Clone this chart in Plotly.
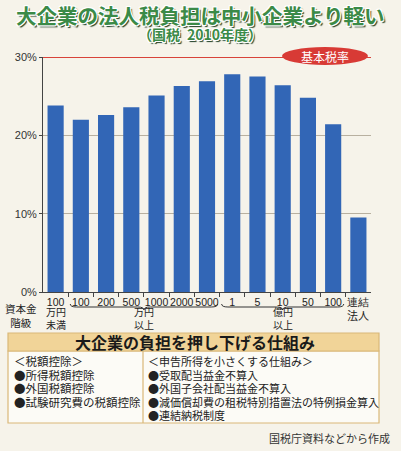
import plotly.graph_objects as go

# 資本金階級ごとの法人税負担率（国税 2010年度, %）
categories = list(range(13))
tick_labels = ['100', '100', '200', '500', '1000', '2000', '5000',
               '1', '5', '10', '50', '100', '連結']
burden_rates = [23.8, 22.0, 22.6, 23.6, 25.1, 26.3, 26.9,
                27.8, 27.5, 26.4, 24.8, 21.4, 9.5]
y_ticks = [0, 10, 20, 30]
BASE_RATE = 30

left_items = ['＜税額控除＞', '●所得税額控除', '●外国税額控除', '●試験研究費の税額控除']
right_items = ['＜申告所得を小さくする仕組み＞', '●受取配当益金不算入', '●外国子会社配当益金不算入',
               '●減価償却費の租税特別措置法の特例損金算入', '●連結納税制度']

JP = 'Noto Sans CJK JP, sans-serif'
NUM = 'Liberation Sans Narrow, Liberation Sans, Arial, sans-serif'
PAPER = '#f6f3ea'

# plot area in pixels: x 43..371, y 57..292
ML, MR, MT, MB = 43, 30, 57, 159
W, H = 401, 451
PW, PH = W - ML - MR, H - MT - MB


def px_x(px):
    return (px - ML) / PW


def px_y(py):
    return (H - MB - py) / PH


fig = go.Figure()
fig.add_trace(go.Bar(
    x=categories,
    y=burden_rates,
    marker=dict(color='#3266b6', line=dict(width=0)),
    hoverinfo='skip',
))

shapes = []
# base tax rate line + pill
shapes.append(dict(type='line', xref='paper', yref='y', x0=0, x1=1, y0=BASE_RATE, y1=BASE_RATE,
                   line=dict(color='#d8433a', width=2.2), layer='above'))
shapes.append(dict(type='circle', xref='paper', yref='paper',
                   x0=px_x(282), x1=px_x(368), y0=px_y(65), y1=px_y(47),
                   fillcolor='#d83a35', line=dict(width=0), layer='above'))


def brace(x0, x1, ytop, ybot):
    mid = (x0 + x1) / 2
    ym = (ytop + ybot) / 2
    d = 0.25
    return (f'M {x0},{ytop} Q {x0},{ym} {x0 + d},{ym} L {mid - d},{ym} '
            f'Q {mid},{ym} {mid},{ybot} Q {mid},{ym} {mid + d},{ym} '
            f'L {x1 - d},{ym} Q {x1},{ym} {x1},{ytop}')


for a, b in [(0.58, 6.42), (6.58, 11.42)]:
    shapes.append(dict(type='path', xref='x', yref='paper',
                       path=brace(a, b, px_y(304), px_y(310)),
                       line=dict(color='#333', width=1)))

# bottom box
shapes.append(dict(type='rect', xref='paper', yref='paper',
                   x0=px_x(8), x1=px_x(379), y0=px_y(423), y1=px_y(351),
                   fillcolor='#fcfbf6', line=dict(color='#d9b878', width=1.2)))
shapes.append(dict(type='rect', xref='paper', yref='paper',
                   x0=px_x(8), x1=px_x(379), y0=px_y(351), y1=px_y(333),
                   fillcolor='#f1d498', line=dict(color='#d9b878', width=1.2)))
shapes.append(dict(type='line', xref='paper', yref='paper',
                   x0=px_x(143), x1=px_x(143), y0=px_y(423), y1=px_y(351),
                   line=dict(color='#d9b878', width=1.2)))

annotations = []


def note(text, x, y, size=11, color='#222', anchor='center', **font):
    annotations.append(dict(text=text, xref='paper', yref='paper', x=px_x(x), y=px_y(y),
                            xanchor=anchor, yanchor='middle', showarrow=False,
                            font=dict(family=JP, size=size, color=color, **font)))


outline = ('-1px -1px 0 #fff, 1px -1px 0 #fff, -1px 1px 0 #fff, 1px 1px 0 #fff, '
           '0 -1px 0 #fff, 0 1px 0 #fff, 2px 2px 1px #1e3d25')
note('大企業の法人税負担は中小企業より軽い', 200, 15, size=20.5, color='#3b8a47',
     weight='bold', shadow=outline)
note('（国税\u20022010年度）', 200, 34, size=14, color='#3b8a47', weight='bold', shadow=outline)
note('基本税率', 325, 56, size=12, color='#ffffff')

note('資本金<br>階級', 21, 315, size=10.5)
note('万円<br>未満', 56, 318, size=10)
note('万円<br>以上', 144, 318, size=10)
note('億円<br>以上', 283, 318, size=10)
note('法人', 358, 315, size=11)

note('大企業の負担を押し下げる仕組み', 195, 342, size=16, color='#1a1a1a', weight='bold')
for i, t in enumerate(left_items):
    note(t, 12, 361 + i * 13.5, size=11.5, anchor='left')
for i, t in enumerate(right_items):
    note(t, 146, 361 + i * 13.5, size=11, anchor='left')
note('国税庁資料などから作成', 392, 438, size=11, color='#333', anchor='right')

fig.update_layout(
    width=W, height=H,
    margin=dict(l=ML, r=MR, t=MT, b=MB, pad=0, autoexpand=False),
    paper_bgcolor=PAPER, plot_bgcolor=PAPER,
    bargap=0.36,
    showlegend=False,
    shapes=shapes,
    annotations=annotations,
    xaxis=dict(
        range=[-0.5, 12.5], tickmode='array', tickvals=categories, ticktext=tick_labels,
        tickangle=0, tickfont=dict(family=NUM, size=10.5, color='#222'),
        ticks='', showline=True, linecolor='#444', linewidth=1,
        showgrid=False, zeroline=False, fixedrange=True,
        minor=dict(tickmode='array', tickvals=[c + 0.5 for c in categories[:-1]],
                   ticks='outside', ticklen=4, tickcolor='#444'),
    ),
    yaxis=dict(
        range=[0, 30], tickmode='array', tickvals=y_ticks,
        ticktext=[f'{v}%' for v in y_ticks],
        tickfont=dict(family=NUM, size=11, color='#333'),
        ticks='outside', ticklen=3, tickcolor='#444',
        showline=True, linecolor='#444', linewidth=1,
        showgrid=True, gridcolor='#b8b0a0', gridwidth=1,
        zeroline=False, fixedrange=True,
    ),
)

fig.write_html('out.html', config={'displayModeBar': False},
               post_script="document.body.style.margin='0';")
